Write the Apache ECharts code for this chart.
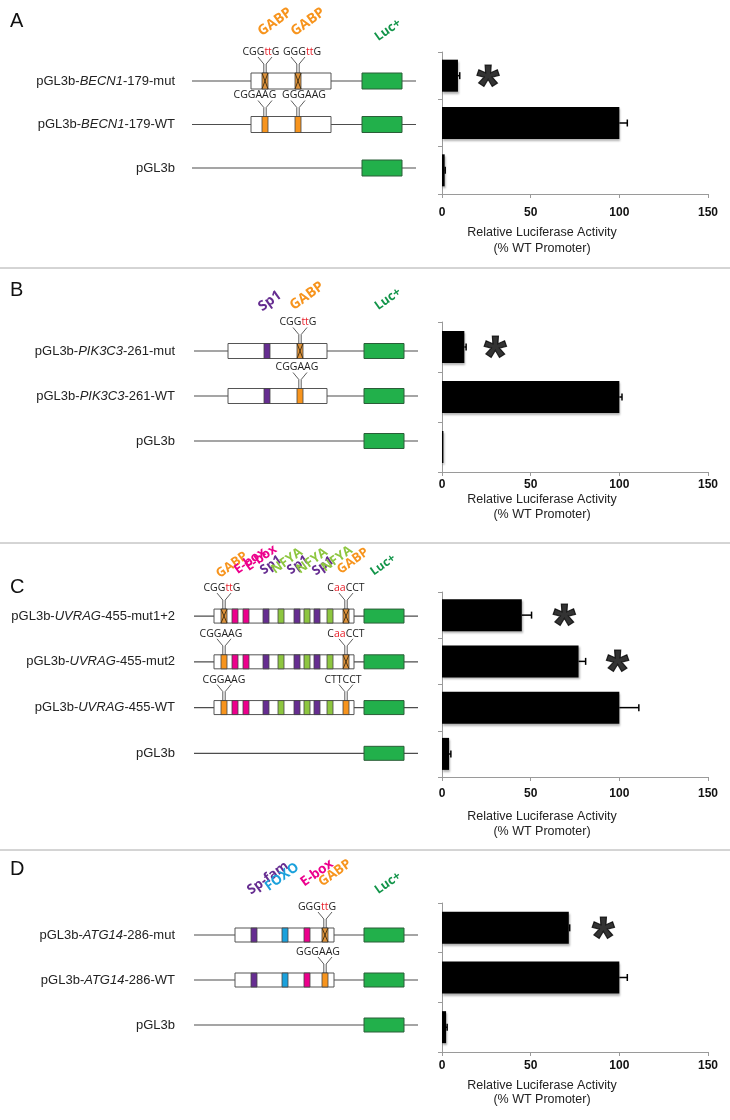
<!DOCTYPE html>
<html><head><meta charset="utf-8">
<script src="https://cdn.jsdelivr.net/npm/echarts@6/dist/echarts.min.js"></script>
<style>html,body{margin:0;padding:0;background:#fff}#c{width:730px;height:1120px}</style>
</head><body><div id="c"></div>
<script>
// ---------------- data ----------------
const namesA = ['pGL3b-BECN1-179-mut', 'pGL3b-BECN1-179-WT', 'pGL3b'];
const valuesA = [9, 100, 1.5];
const errorsA = [1, 4.5, 0.3];
const starA = [26, null, null];

const namesB = ['pGL3b-PIK3C3-261-mut', 'pGL3b-PIK3C3-261-WT', 'pGL3b'];
const valuesB = [12.6, 100, 0.8];
const errorsB = [1, 1.5, 0];
const starB = [30, null, null];

const namesC = ['pGL3b-UVRAG-455-mut1+2', 'pGL3b-UVRAG-455-mut2', 'pGL3b-UVRAG-455-WT', 'pGL3b'];
const valuesC = [45, 77, 100, 4];
const errorsC = [5.5, 4, 11, 1];
const starC = [69, 99, null, null];

const namesD = ['pGL3b-ATG14-286-mut', 'pGL3b-ATG14-286-WT', 'pGL3b'];
const valuesD = [71.5, 100, 2.3];
const errorsD = [0.5, 4.5, 0.6];
const starD = [91, null, null];

const genes = ['BECN1', 'PIK3C3', 'UVRAG', 'ATG14'];
const xTickMax = 150;
const xTickStep = 50;
const axisTitle = 'Relative Luciferase Activity\n(% WT Promoter)';

// ---------------- styles / layout ----------------
const TF = {
  'GABP': '#f7941d', 'E-box': '#ec008c', 'Sp1': '#662d91', 'NFYA': '#8dc63f',
  'Sp-fam': '#662d91', 'FOXO': '#1ba1dc', 'Luc+': '#13954a'
};
const MW = 6;      // motif width (diagram units)
const LUC = [170, 210];
const DW = 224;    // diagram width

const panels = [
  { letter: 'A', letterY: 21, names: namesA, values: valuesA, errors: errorsA, stars: starA, gene: genes[0],
    diag: { left: 192, top: 59.25, height: 130.5, box: [59, 139], boxH: 16,
      motifs: [['GABP', 70], ['GABP', 103]],
      rows: [{ mut: [0, 1], seqs: [[0, 'CGGttG', -4], [1, 'GGGttG', 4]] },
             { mut: [], seqs: [[0, 'CGGAAG', -10], [1, 'GGGAAG', 6]] }, null] },
    tf: [['GABP', 275, 22, 14], ['GABP', 308, 22, 14], ['Luc+', 388, 30, 12.5]],
    bar: { top: 52, height: 142, labelMargin: 13, nameGap: 31, lh: 16 } },
  { letter: 'B', letterY: 290, names: namesB, values: valuesB, errors: errorsB, stars: starB, gene: genes[1],
    diag: { left: 194, top: 328.5, height: 135, box: [34, 133], boxH: 15,
      motifs: [['Sp1', 70], ['GABP', 103]],
      rows: [{ mut: [1], seqs: [[1, 'CGGttG', -2]] },
             { mut: [], seqs: [[1, 'CGGAAG', -3]] }, null] },
    tf: [['Sp1', 270, 301, 14], ['GABP', 307, 296, 14], ['Luc+', 388, 299, 12.5]],
    bar: { top: 322, height: 150, labelMargin: 7, nameGap: 18, lh: 15 } },
  { letter: 'C', letterY: 587, names: namesC, values: valuesC, errors: errorsC, stars: starC, gene: genes[2],
    diag: { left: 194, top: 593.2, height: 183, box: [20, 160], boxH: 14,
      motifs: [['GABP', 27], ['E-box', 38], ['E-box', 49], ['Sp1', 69], ['NFYA', 84], ['Sp1', 100],
               ['NFYA', 110], ['Sp1', 120], ['NFYA', 133], ['GABP', 149]],
      rows: [{ mut: [0, 9], seqs: [[0, 'CGGttG', -2], [9, 'CaaCCT', 0]] },
             { mut: [9], seqs: [[0, 'CGGAAG', -3], [9, 'CaaCCT', 0]] },
             { mut: [], seqs: [[0, 'CGGAAG', 0], [9, 'CTTCCT', -3]] }, null] },
    tf: [['GABP', 232, 565, 13], ['E-box', 250, 561, 13], ['E-box', 261, 558, 13], ['Sp1', 271, 565, 13],
         ['NFYA', 287, 561, 13], ['Sp1', 298, 565, 13], ['NFYA', 312, 561, 13], ['Sp1', 323, 566, 13],
         ['NFYA', 337, 559, 13], ['GABP', 353, 561, 13], ['Luc+', 383, 565, 12]],
    bar: { top: 592, height: 185, labelMargin: 11, nameGap: 32, lh: 15 } },
  { letter: 'D', letterY: 869, names: namesD, values: valuesD, errors: errorsD, stars: starD, gene: genes[3],
    diag: { left: 194, top: 912.5, height: 135, box: [41, 140], boxH: 14,
      motifs: [['Sp-fam', 57], ['FOXO', 88], ['E-box', 110], ['GABP', 128]],
      rows: [{ mut: [3], seqs: [[3, 'GGGttG', -8]] },
             { mut: [], seqs: [[3, 'GGGAAG', -7]] }, null] },
    tf: [['Sp-fam', 268, 878, 13.5], ['FOXO', 282, 877, 13.5], ['E-box', 317, 873, 13.5], ['GABP', 335, 873, 13.5], ['Luc+', 388, 883, 12.5]],
    bar: { top: 903, height: 149, labelMargin: 8, nameGap: 27, lh: 14 } }
];

function seqRich(s) {
  return s.replace(/([A-Z]+|[a-z]+)/g, m => /[a-z]/.test(m) ? '{r|' + m + '}' : '{n|' + m + '}');
}

function diagRender(p) {
  const d = p.diag;
  return function (params, api) {
    const ri = api.value(1);
    const row = d.rows[ri];
    const y = api.coord([0, ri])[1];
    const X = v => api.coord([v, ri])[0];
    const h = d.boxH;
    const ch = [];
    ch.push({ type: 'line', shape: { x1: X(0), y1: y, x2: X(DW), y2: y }, style: { stroke: '#4d4d4d', lineWidth: 1.2 } });
    if (row) {
      ch.push({ type: 'rect', shape: { x: X(d.box[0]), y: y - h / 2, width: X(d.box[1]) - X(d.box[0]), height: h },
        style: { fill: '#fff', stroke: '#555', lineWidth: 1 } });
      d.motifs.forEach((m, i) => {
        const x0 = X(m[1]), x1 = X(m[1] + MW);
        const mut = row.mut.indexOf(i) >= 0;
        ch.push({ type: 'rect', shape: { x: x0, y: y - h / 2, width: x1 - x0, height: h },
          style: { fill: mut ? '#e0933a' : TF[m[0]], stroke: '#444', lineWidth: 0.8 } });
        if (mut) {
          ch.push({ type: 'line', shape: { x1: x0, y1: y - h / 2, x2: x1, y2: y + h / 2 }, style: { stroke: '#3a2a10', lineWidth: 0.9 } });
          ch.push({ type: 'line', shape: { x1: x1, y1: y - h / 2, x2: x0, y2: y + h / 2 }, style: { stroke: '#3a2a10', lineWidth: 0.9 } });
        }
      });
      row.seqs.forEach(s => {
        const m = d.motifs[s[0]];
        const cx = X(m[1] + MW / 2);
        const top = y - h / 2;
        const yA = top - 16, yB = top - 9;
        ch.push({ type: 'polyline', shape: { points: [[cx - 7, yA], [cx - 1.2, yB], [cx - 1.2, top]] }, style: { stroke: '#333', lineWidth: 0.8, fill: null } });
        ch.push({ type: 'polyline', shape: { points: [[cx + 7, yA], [cx + 1.2, yB], [cx + 1.2, top]] }, style: { stroke: '#333', lineWidth: 0.8, fill: null } });
        ch.push({ type: 'text', x: cx + s[2], y: top - 21,
          style: { text: seqRich(s[1]), fontSize: 10.5, fontFamily: '"Open Sans"', fill: '#222', align: 'center', verticalAlign: 'middle',
            rich: { n: { fill: '#222', fontSize: 10.5, fontFamily: '"Open Sans"' }, r: { fill: '#e8202a', fontSize: 10.5, fontFamily: '"Open Sans"' } } } });
      });
    }
    ch.push({ type: 'rect', shape: { x: X(LUC[0]), y: y - h / 2, width: X(LUC[1]) - X(LUC[0]), height: h },
      style: { fill: '#22b04b', stroke: '#2b5e38', lineWidth: 1 } });
    return { type: 'group', children: ch };
  };
}

function errRender(params, api) {
  const v = api.value(0), r = api.value(1), e = api.value(2);
  if (!e) return null;
  const p0 = api.coord([v, r]), p1 = api.coord([v + e, r]);
  return { type: 'group', children: [
    { type: 'line', shape: { x1: p0[0], y1: p0[1], x2: p1[0], y2: p1[1] }, style: { stroke: '#000', lineWidth: 1.5 } },
    { type: 'line', shape: { x1: p1[0], y1: p1[1] - 3.5, x2: p1[0], y2: p1[1] + 3.5 }, style: { stroke: '#000', lineWidth: 1.5 } }
  ] };
}

const grids = [], xAxes = [], yAxes = [], series = [], graphics = [];

panels.forEach((p, k) => {
  const gd = 2 * k, gb = 2 * k + 1;
  grids.push({ left: p.diag.left, top: p.diag.top, width: DW, height: p.diag.height, outerBoundsMode: 'none' });
  xAxes.push({ gridIndex: gd, type: 'value', min: 0, max: DW, show: false });
  yAxes.push({ gridIndex: gd, type: 'category', inverse: true, data: p.names,
    axisLine: { show: false }, axisTick: { show: false }, splitLine: { show: false },
    axisLabel: { margin: p.diag.left - 175,
      formatter: v => {
        const i = v.indexOf(p.gene);
        if (i < 0) return '{n|' + v + '}';
        return '{n|' + v.slice(0, i) + '}{i|' + p.gene + '}{n|' + v.slice(i + p.gene.length) + '}';
      },
      rich: { n: { fontSize: 13, fontFamily: '"Liberation Sans"', color: '#222' },
              i: { fontSize: 13, fontFamily: '"Liberation Sans"', fontStyle: 'italic', color: '#222' } } } });

  grids.push({ left: 442, top: p.bar.top, width: 266, height: p.bar.height, outerBoundsMode: 'none' });
  xAxes.push({ gridIndex: gb, type: 'value', min: 0, max: xTickMax, interval: xTickStep,
    axisLine: { show: true, lineStyle: { color: '#9a9a9a', width: 1 } },
    axisTick: { show: true, length: 4, lineStyle: { color: '#9a9a9a' } },
    splitLine: { show: false },
    axisLabel: { margin: p.bar.labelMargin, fontSize: 12, fontWeight: 'bold', fontFamily: '"Liberation Sans"', color: '#111' },
    name: axisTitle, nameLocation: 'middle', nameGap: p.bar.nameGap,
    nameTextStyle: { fontSize: 12.5, fontFamily: '"Liberation Sans"', color: '#222', lineHeight: p.bar.lh, padding: [0, 66, 0, 0] } });
  yAxes.push({ gridIndex: gb, type: 'category', inverse: true, data: p.names,
    axisLine: { show: true, lineStyle: { color: '#9a9a9a', width: 1 } },
    axisTick: { show: true, length: 4, lineStyle: { color: '#9a9a9a' } },
    axisLabel: { show: false }, splitLine: { show: false } });

  series.push({ type: 'custom', xAxisIndex: gd, yAxisIndex: gd, renderItem: diagRender(p), silent: true,
    encode: { x: 0, y: 1 }, data: p.names.map((n, i) => [0, i]) });
  series.push({ type: 'bar', xAxisIndex: gb, yAxisIndex: gb, data: p.values, barWidth: 32, silent: true,
    itemStyle: { color: '#000', shadowColor: 'rgba(0,0,0,0.3)', shadowBlur: 2, shadowOffsetX: 1, shadowOffsetY: 2 } });
  series.push({ type: 'custom', xAxisIndex: gb, yAxisIndex: gb, renderItem: errRender, silent: true, z: 5,
    encode: { x: 0, y: 1 }, data: p.values.map((v, i) => [v, i, p.errors[i]]) });
  series.push({ type: 'scatter', xAxisIndex: gb, yAxisIndex: gb, symbolSize: 1, itemStyle: { color: 'rgba(0,0,0,0)' }, silent: true,
    data: p.stars.map((s, i) => s == null ? null : [s, i]).filter(x => x),
    label: { show: true, position: 'inside', formatter: '*', fontSize: 58, fontWeight: 'bold', fontFamily: '"Liberation Sans"',
      color: '#000', textBorderColor: '#000', textBorderWidth: 1.2, offset: [0, 13] } });

  graphics.push({ type: 'text', x: 10, y: p.letterY,
    style: { text: p.letter, fontSize: 20, fontFamily: '"Liberation Sans"', fill: '#111', align: 'left', verticalAlign: 'middle' } });
  p.tf.forEach(t => {
    graphics.push({ type: 'text', x: t[1], y: t[2], rotation: 0.62,
      style: { text: t[0], fontSize: t[3], fontWeight: 'bold', fontFamily: '"Open Sans"', fill: TF[t[0]], align: 'center', verticalAlign: 'middle' } });
  });
});

[268, 543, 850].forEach(y => {
  graphics.push({ type: 'line', shape: { x1: 0, y1: y, x2: 730, y2: y }, style: { stroke: '#aaa', lineWidth: 1 } });
});

const chart = echarts.init(document.getElementById('c'), null, { renderer: 'canvas' });
chart.setOption({
  animation: false,
  backgroundColor: '#fff',
  grid: grids, xAxis: xAxes, yAxis: yAxes, series: series, graphic: graphics
});
</script></body></html>
